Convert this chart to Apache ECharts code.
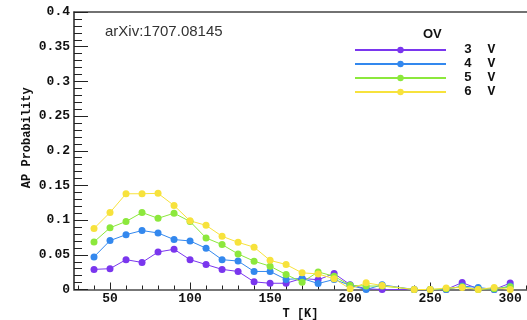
<!DOCTYPE html>
<html><head><meta charset="utf-8">
<script src="https://cdn.jsdelivr.net/npm/echarts@6/dist/echarts.min.js"></script>
<style>html,body{margin:0;padding:0;background:#fff}#c{width:527px;height:320px}</style>
</head><body><div id="c"></div>
<script>
const temps = [40,50,60,70,80,90,100,110,120,130,140,150,160,170,180,190,200,210,220,240,250,260,270,280,290,300];
const v3 = [0.029,0.030,0.043,0.039,0.054,0.058,0.043,0.036,0.029,0.026,0.011,0.009,0.009,0.016,0.014,0.023,0.007,0.001,0,0,0,0,0.0100,0.001,0,0.0092];
const v4 = [0.047,0.0705,0.079,0.085,0.0815,0.072,0.070,0.0595,0.043,0.041,0.026,0.026,0.0145,0.016,0.0086,0.0145,0.006,0,0.0067,0,0,0,0.005,0.003,0,0.005];
const v5 = [0.0686,0.089,0.098,0.111,0.1026,0.110,0.098,0.0743,0.0647,0.0513,0.0408,0.0336,0.0216,0.0106,0.0254,0.019,0.006,0.005,0.005,0,0,0.001,0.004,0,0.001,0.004];
const v6 = [0.088,0.111,0.138,0.138,0.1386,0.121,0.099,0.0925,0.0767,0.068,0.061,0.042,0.036,0.024,0.0225,0.0154,0.001,0.0096,0.0058,0,0,0.002,0.003,0,0.003,0];
const seriesNames = ['3  V','4  V','5  V','6  V'];
const seriesColors = ['#7a36ee','#3388ee','#8ce83c','#f7e23c'];
const xMajor = [50,100,150,200,250,300];
const xMinor = [30,40,60,70,80,90,110,120,130,140,160,170,180,190,210,220,230,240,260,270,280,290,310];
const yTicks = [0,0.05,0.1,0.15,0.2,0.25,0.3,0.35,0.4];

const mono = 'Liberation Mono';
const allValues = [v3,v4,v5,v6];
const chart = echarts.init(document.getElementById('c'), null, {renderer:'canvas'});
chart.setOption({
  animation:false,
  backgroundColor:'#fff',
  title:[
    {text:'arXiv:1707.08145', left:105, top:24, padding:0,
     textStyle:{fontFamily:'Liberation Sans', fontSize:15, fontWeight:'normal', color:'#333'}},
    {text:'OV', left:423, top:28, padding:0,
     textStyle:{fontFamily:'Liberation Sans', fontSize:13, fontWeight:'bold', color:'#111'}}
  ],
  legend:{
    orient:'vertical', left:354, top:43, padding:0,
    itemWidth:91, itemHeight:8, itemGap:0,
    data:seriesNames,
    textStyle:{fontFamily:mono, fontSize:13, fontWeight:'bold', color:'#111', lineHeight:14, padding:[0,0,0,13]}
  },
  grid:{left:74, right:0, top:12, bottom:30.5, containLabel:false, outerBoundsMode:'none'},
  xAxis:[
    {type:'value', position:'bottom', min:27.5, max:310.5,
     name:'T [K]', nameLocation:'middle', nameGap:18, nameMoveOverlap:false,
     nameTextStyle:{fontFamily:mono, fontSize:12, fontWeight:'bold', color:'#111'},
     axisLine:{show:true, lineStyle:{color:'#777', width:2}},
     axisTick:{show:true, inside:true, length:7, customValues:xMajor, lineStyle:{color:'#222', width:1}},
     axisLabel:{customValues:xMajor, margin:3, fontFamily:mono, fontSize:13, fontWeight:'bold', color:'#111'},
     splitLine:{show:false}},
    {type:'value', position:'bottom', min:27.5, max:310.5,
     axisLine:{show:false},
     axisTick:{show:true, inside:true, length:4, customValues:xMinor, lineStyle:{color:'#222', width:1}},
     axisLabel:{show:false}, splitLine:{show:false}},
    {type:'value', position:'top', min:27.5, max:310.5,
     axisLine:{show:true, lineStyle:{color:'#444', width:1.5}},
     axisTick:{show:false}, axisLabel:{show:false}, splitLine:{show:false}}
  ],
  yAxis:{type:'value', min:0, max:0.4, interval:0.05,
    name:'AP Probability', nameLocation:'middle', nameGap:41, nameRotate:90, nameMoveOverlap:false,
    nameTextStyle:{fontFamily:mono, fontSize:12, fontWeight:'bold', color:'#111', padding:[0,0,0,26]},
    axisLine:{show:true, lineStyle:{color:'#222', width:1.5}},
    axisTick:{show:true, inside:true, length:14, lineStyle:{color:'#222', width:1}},
    minorTick:{show:true, splitNumber:5, length:8, lineStyle:{color:'#222', width:1}},
    axisLabel:{margin:4, fontFamily:mono, fontSize:13, fontWeight:'bold', color:'#111',
      customValues:yTicks,
      formatter:function(v){return String(+v.toFixed(2));}},
    splitLine:{show:false}},
  series: seriesNames.map(function(n,i){
    return {name:n, type:'line', xAxisIndex:0,
      data: temps.map(function(t,j){return [t, allValues[i][j]];}),
      symbol:'circle', symbolSize:7, showSymbol:true,
      itemStyle:{color:seriesColors[i]},
      lineStyle:{color:seriesColors[i], width:1}};
  })
});
</script></body></html>
